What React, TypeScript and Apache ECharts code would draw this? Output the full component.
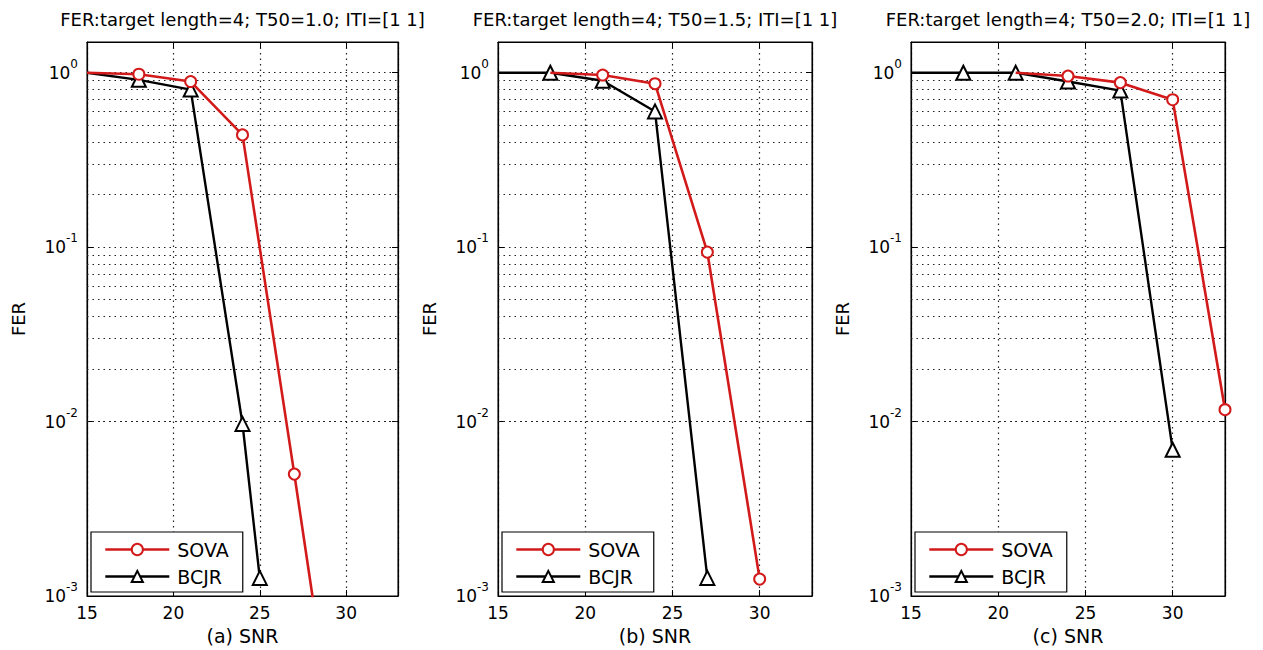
import React, { useEffect, useRef } from 'react';
import * as echarts from 'echarts';

// ---------- data ----------
const panelTitles = [
  'FER:target length=4; T50=1.0; ITI=[1 1]',
  'FER:target length=4; T50=1.5; ITI=[1 1]',
  'FER:target length=4; T50=2.0; ITI=[1 1]',
];
const xAxisNames = ['(a) SNR', '(b) SNR', '(c) SNR'];
const yAxisName = 'FER';
const seriesNames = ['SOVA', 'BCJR'];

// panel (a) T50 = 1.0
const snrSovaA = [15, 18, 21, 24, 27, 30];
const ferSovaA = [1.0, 0.98, 0.89, 0.44, 0.005, 0.00005];
const snrBcjrA = [15, 18, 21, 24, 25];
const ferBcjrA = [1.0, 0.91, 0.8, 0.0097, 0.00127];

// panel (b) T50 = 1.5
const snrSovaB = [18, 21, 24, 27, 30];
const ferSovaB = [1.0, 0.97, 0.865, 0.0936, 0.00125];
const snrBcjrB = [15, 18, 21, 24, 27];
const ferBcjrB = [1.0, 1.0, 0.9, 0.6, 0.00127];

// panel (c) T50 = 2.0
const snrSovaC = [21, 24, 27, 30, 33];
const ferSovaC = [1.0, 0.957, 0.877, 0.7, 0.0117];
const snrBcjrC = [15, 18, 21, 24, 27, 30];
const ferBcjrC = [1.0, 1.0, 1.0, 0.89, 0.79, 0.0069];

const xTickLabels = [15, 20, 25, 30];
const xMin = 15;
const xMax = 33;
const yMin = 0.001;
const yMax = 1.5;
const minorMultipliers = [2, 3, 4, 5, 6, 7, 8, 9];
const minorDecades = [0.001, 0.01, 0.1];

// ---------- style / layout ----------
const FONT = '"DejaVu Sans", "Liberation Sans", sans-serif';
const RED = '#d21a1a';
const BLACK = '#000000';
const gridLefts = [87, 498, 911];
const gridWidths = [311, 314, 314];
const gridTop = 42;
const gridHeight = 555;

const zip = (xs: number[], ys: number[]) => xs.map((x, i) => [x, ys[i]]);

function buildOption() {
  const panels = [
    { sova: zip(snrSovaA, ferSovaA), bcjr: zip(snrBcjrA, ferBcjrA) },
    { sova: zip(snrSovaB, ferSovaB), bcjr: zip(snrBcjrB, ferBcjrB) },
    { sova: zip(snrSovaC, ferSovaC), bcjr: zip(snrBcjrC, ferBcjrC) },
  ];
  const minorValues = minorDecades.flatMap((d) =>
    minorMultipliers.map((m) => Number((m * d).toPrecision(3)))
  );
  const dotted = { type: [1.5, 4] as any, color: '#222', width: 1.2 };

  const yLabelFormatter = (v: number) => {
    const l = Math.log10(v);
    const e = Math.round(l);
    if (Math.abs(l - e) > 1e-6) return '';
    return `{b|10}{s|${e}}`;
  };
  const xLabelFormatter = (v: number) => (xTickLabels.includes(v) ? String(v) : '');

  const grid: any[] = [];
  const xAxis: any[] = [];
  const yAxis: any[] = [];
  const series: any[] = [];
  const title: any[] = [];
  const legend: any[] = [];

  panels.forEach((p, i) => {
    grid.push({
      left: gridLefts[i],
      top: gridTop,
      width: gridWidths[i],
      height: gridHeight,
      show: true,
      borderColor: BLACK,
      borderWidth: 1,
      backgroundColor: '#fff',
    });
    title.push({
      text: panelTitles[i],
      left: gridLefts[i] + gridWidths[i] / 2,
      textAlign: 'center',
      top: 10,
      padding: 0,
      textStyle: { fontSize: 18, fontWeight: 'normal', fontFamily: FONT, color: BLACK },
    });
    xAxis.push({
      type: 'value',
      gridIndex: i,
      min: xMin,
      max: xMax,
      interval: 5,
      position: 'bottom',
      name: xAxisNames[i],
      nameLocation: 'middle',
      nameGap: 30,
      nameTextStyle: { fontSize: 19, color: BLACK, fontFamily: FONT },
      axisLine: { show: true, lineStyle: { color: BLACK, width: 1.2 } },
      axisTick: { show: true, inside: true, length: 6, lineStyle: { color: BLACK } },
      axisLabel: { show: true, margin: 8, fontSize: 17, color: BLACK, fontFamily: FONT, formatter: xLabelFormatter },
      splitLine: { show: true, lineStyle: dotted },
    });
    xAxis.push({
      type: 'value',
      gridIndex: i,
      min: xMin,
      max: xMax,
      interval: 5,
      position: 'top',
      axisLine: { show: true, lineStyle: { color: BLACK, width: 1.2 } },
      axisTick: { show: true, inside: true, length: 6, lineStyle: { color: BLACK } },
      axisLabel: { show: false },
      splitLine: { show: false },
    });
    yAxis.push({
      type: 'log',
      logBase: 10,
      gridIndex: i,
      min: yMin,
      max: yMax,
      position: 'left',
      name: yAxisName,
      nameLocation: 'middle',
      nameGap: 60,
      nameTextStyle: { fontSize: 18, color: BLACK, fontFamily: FONT },
      axisLine: { show: true, lineStyle: { color: BLACK, width: 1.2 } },
      axisTick: { show: true, inside: true, length: 6, lineStyle: { color: BLACK } },
      axisLabel: {
        show: true,
        margin: 9,
        formatter: yLabelFormatter,
        rich: {
          b: { fontSize: 17, lineHeight: 30, verticalAlign: 'middle', fontFamily: FONT, color: BLACK },
          s: { fontSize: 12, lineHeight: 12, verticalAlign: 'top', fontFamily: FONT, color: BLACK },
        },
      },
      splitLine: { show: true, lineStyle: dotted },
    });
    yAxis.push({
      type: 'log',
      logBase: 10,
      gridIndex: i,
      min: yMin,
      max: yMax,
      position: 'right',
      axisLine: { show: true, lineStyle: { color: BLACK, width: 1.2 } },
      axisTick: { show: true, inside: true, length: 6, lineStyle: { color: BLACK } },
      axisLabel: { show: false },
      splitLine: { show: false },
    });

    const firstHidden = (size: number) => (_v: any, params: any) => (params.dataIndex === 0 ? 0 : size);

    series.push({
      type: 'line',
      name: seriesNames[1],
      xAxisIndex: 2 * i,
      yAxisIndex: 2 * i,
      data: p.bcjr,
      symbol: 'emptyTriangle',
      symbolSize: firstHidden(14),
      clip: true,
      lineStyle: { color: BLACK, width: 2.4 },
      itemStyle: { color: BLACK, borderWidth: 2 },
      z: 3,
      markLine: {
        silent: true,
        symbol: ['none', 'none'],
        label: { show: false },
        lineStyle: dotted,
        emphasis: { disabled: true },
        data: minorValues.map((v) => ({ yAxis: v })),
        z: 1,
      },
    });
    series.push({
      type: 'line',
      name: seriesNames[0],
      xAxisIndex: 2 * i,
      yAxisIndex: 2 * i,
      data: p.sova,
      symbol: 'emptyCircle',
      symbolSize: firstHidden(11),
      clip: true,
      lineStyle: { color: RED, width: 2.6 },
      itemStyle: { color: RED, borderWidth: 2 },
      z: 4,
    });

    legend.push({
      orient: 'vertical',
      left: gridLefts[i] + 4,
      top: 532,
      padding: [8, 14, 6, 13],
      itemGap: 8,
      itemWidth: 64,
      itemHeight: 14,
      backgroundColor: '#fff',
      borderColor: BLACK,
      borderWidth: 1.2,
      borderRadius: 0,
      selectedMode: false,
      data: [{ name: seriesNames[0] }, { name: seriesNames[1] }],
      lineStyle: { width: 2.6 },
      textStyle: { fontSize: 19, fontFamily: FONT, color: BLACK, padding: [0, 0, 0, 3] },
      z: 10,
    });
  });

  return {
    animation: false,
    backgroundColor: '#fff',
    textStyle: { fontFamily: FONT },
    title,
    legend,
    grid,
    xAxis,
    yAxis,
    series,
  };
}

export default function App() {
  const ref = useRef<HTMLDivElement>(null);
  useEffect(() => {
    if (!ref.current) return;
    const chart = echarts.init(ref.current, null, { renderer: 'svg' });
    chart.setOption(buildOption() as any);
    return () => chart.dispose();
  }, []);
  return (
    <div
      ref={ref}
      style={{ position: 'absolute', left: 0, top: 0, width: 1263, height: 650, background: '#fff' }}
    />
  );
}
